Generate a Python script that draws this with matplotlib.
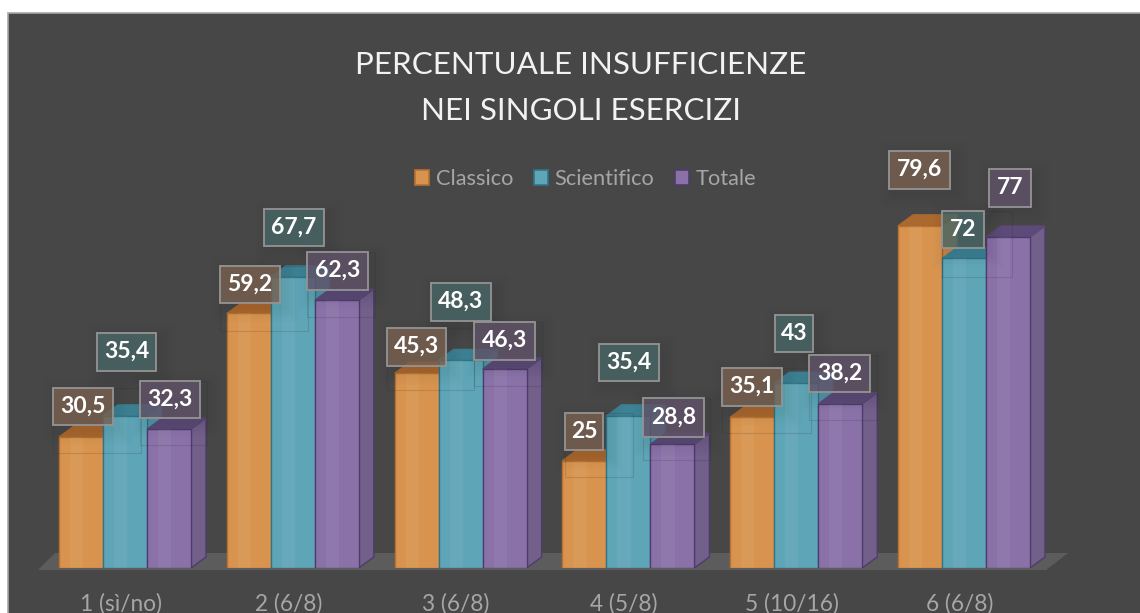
import matplotlib
matplotlib.use("Agg")
import matplotlib.pyplot as plt
from matplotlib.patches import Patch, Polygon, Rectangle
from matplotlib.transforms import Affine2D
import numpy as np

plt.rcParams["font.family"] = ["Lato", "DejaVu Sans"]

categories = ["1 (sì/no)", "2 (6/8)", "3 (6/8)", "4 (5/8)", "5 (10/16)", "6 (6/8)"]
classico = [30.5, 59.2, 45.3, 25, 35.1, 79.6]
scientifico = [35.4, 67.7, 48.3, 35.4, 43, 72]
totale = [32.3, 62.3, 46.3, 28.8, 38.2, 77]
series_names = ["Classico", "Scientifico", "Totale"]

W, H = 1140, 613
BASE_PX = 568
PX_PER_UNIT = 4.30
PX_PER_CAT = 167.8
FIRST_CENTER = 125
BAR_PX = 44
DEPTH_X = 15
DEPTH_Y = 11

# front, side, top, edge, label box
colors = [
    ("#d8944f", "#c98644", "#a9692f", "#b8712f", "#786150"),
    ("#5fa5b8", "#4f93a8", "#3c8294", "#2f7488", "#486766"),
    ("#8a72a8", "#72608a", "#5d4a78", "#4e3c6c", "#615369"),
]

# label boxes in pixels: left, top, right, bottom
boxes = [
    [(53, 388, 113, 425), (220, 266, 280, 303), (387, 328, 446, 366),
     (565, 413, 603, 450), (722, 368, 782, 406), (889, 151, 950, 189)],
    [(97, 333, 156, 371), (264, 209, 324, 246), (431, 283, 491, 321),
     (599, 344, 659, 381), (775, 315, 813, 352), (942, 211, 984, 248)],
    [(140, 381, 200, 418), (307, 252, 368, 290), (474, 322, 535, 360),
     (643, 398, 704, 437), (809, 355, 870, 392), (989, 169, 1031, 207)],
]

# faint outlines left under some label boxes: left, top, right, bottom
ghosts = [
    (53, 388, 141, 453), (220, 266, 308, 331), (387, 328, 474, 390), (565, 413, 633, 477),
    (722, 368, 811, 433), (140, 381, 207, 445), (307, 252, 375, 317), (474, 322, 542, 386),
    (643, 398, 710, 460), (809, 355, 877, 420), (942, 211, 1012, 277),
]

fig = plt.figure(figsize=(W / 100, H / 100), dpi=100, facecolor="white")
pix = Affine2D().scale(1, -1).translate(0, H)

ax = fig.add_axes([0, (H - BASE_PX) / H, 1, BASE_PX / H])
ax.patch.set_visible(False)
ax.set_xlim(-FIRST_CENTER / PX_PER_CAT, (W - FIRST_CENTER) / PX_PER_CAT)
ax.set_ylim(0, BASE_PX / PX_PER_UNIT)
for s in ax.spines.values():
    s.set_visible(False)
ax.set_yticks([])

# dark panel behind everything, runs off the right and bottom edges
ax.add_patch(Rectangle((7.5, 12.5), 1140, 610, transform=pix, facecolor="#474747",
                       edgecolor="#a8a8a8", linewidth=1.2, zorder=0, clip_on=False))

# floor
ax.add_patch(Polygon([(38, 570), (55, 553), (1068, 553), (1046, 570)], transform=pix,
                     facecolor="#5c5c5c", edgecolor="none", zorder=1, clip_on=False))

x = np.arange(len(categories))
width = BAR_PX / PX_PER_CAT
dx = DEPTH_X / PX_PER_CAT
dy = DEPTH_Y / PX_PER_UNIT

for i, values in enumerate([classico, scientifico, totale]):
    front, side, top, edge, _ = colors[i]
    xs = x + (i - 1) * width
    for xc, v in zip(xs, values):
        l, r = xc - width / 2, xc + width / 2
        z = 2 + i
        ax.add_patch(Polygon([(r, 0), (r + dx, dy), (r + dx, v + dy), (r, v)],
                             facecolor=side, edgecolor=edge, linewidth=1, zorder=z))
        ax.add_patch(Polygon([(l, v), (l + dx, v + dy), (r + dx, v + dy), (r, v)],
                             facecolor=top, edgecolor=top, linewidth=0.8, zorder=z))
    ax.bar(xs, values, width=width, color=front, edgecolor=edge, linewidth=1, zorder=2 + i)
    # lighter strip down the front of each bar
    ax.bar(xs - width * 0.1, values, width=width * 0.3, color="white", alpha=0.05, zorder=2 + i)

for l, t, r, b in ghosts:
    ax.add_patch(Rectangle((l, t), r - l, b - t, transform=pix, facecolor="none",
                           edgecolor="#2e2e2e", alpha=0.17, linewidth=0.8, zorder=5))

# value labels
for i, values in enumerate([classico, scientifico, totale]):
    fill = colors[i][4]
    for v, (l, t, r, b) in zip(values, boxes[i]):
        for grow in [14, 11, 8, 5, 2]:
            ax.add_patch(Rectangle((l - grow + 5, t - grow + 5), r - l + 2 * grow, b - t + 2 * grow,
                                   transform=pix, facecolor="black", edgecolor="none",
                                   alpha=0.012, zorder=6, clip_on=False))
        ax.add_patch(Rectangle((l, t), r - l, b - t, transform=pix, facecolor=fill,
                               edgecolor="none", alpha=0.8, zorder=7))
        ax.add_patch(Rectangle((l, t), r - l, b - t, transform=pix, facecolor="none",
                               edgecolor="#949494", linewidth=1.3, zorder=8))
        ax.text((l + r) / 2, (t + b) / 2 - 0.5, f"{v:g}".replace(".", ","), transform=pix,
                color="white", fontsize=16.5, fontweight="bold", ha="center", va="center", zorder=9)

ax.set_xticks(x - 4.5 / PX_PER_CAT)
ax.set_xticklabels(categories, fontsize=16.3, color="#a6a6a6")
ax.tick_params(axis="x", length=0, pad=18)

handles = [Patch(facecolor=colors[i][0], edgecolor=colors[i][3], linewidth=1.2, label=series_names[i])
           for i in range(3)]
ax.legend(handles=handles, ncol=3, frameon=False, fontsize=15.7, labelcolor="#a6a6a6",
          handlelength=0.66, handleheight=0.66, handletextpad=0.3, columnspacing=0.94,
          loc="center", bbox_to_anchor=(585.5, 179), bbox_transform=pix, borderpad=0)

ax.text(581, 64.5, "PERCENTUALE INSUFFICIENZE", transform=pix, color="#f2f2f2", fontsize=22.6,
        ha="center", va="center")
ax.text(581, 111.5, "NEI SINGOLI ESERCIZI", transform=pix, color="#f2f2f2", fontsize=22.6,
        ha="center", va="center")

fig.savefig("out.png", dpi=100, facecolor="white")
